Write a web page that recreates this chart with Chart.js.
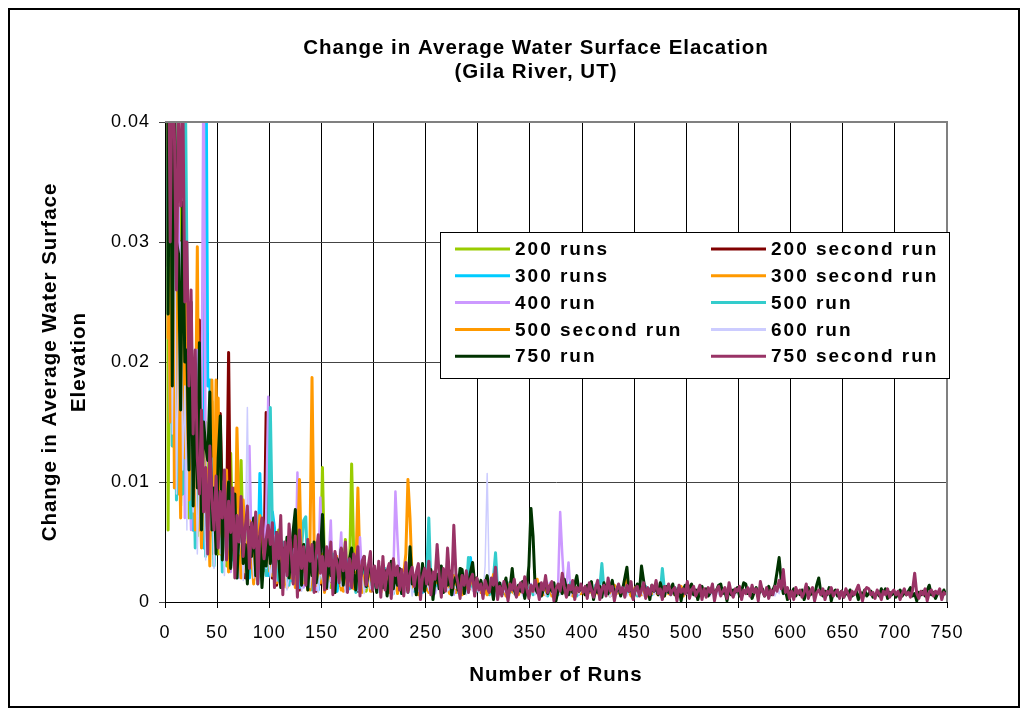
<!DOCTYPE html>
<html>
<head>
<meta charset="utf-8">
<title>Change in Average Water Surface Elacation</title>
<script src="https://cdn.jsdelivr.net/npm/chart.js@4.4.1/dist/chart.umd.min.js"></script>
<style>
    html, body { margin: 0; padding: 0; background: #fff; }
    canvas { display: block; }
</style>
</head>
<body>
<canvas id="myLineChart" width="1029" height="715"></canvas>
<script>
// values, in units of 0.0001, one value for every second run (run 1, 3, 5, ...)
const RUN_STEP = 2;
const VALUE_UNIT = 0.0001;

const seriesNames = ['200 runs', '200 second run', '300 runs', '300 second run', '400 run',
    '500 run', '500 second run', '600 run', '750 run', '750 second run'];

const runs200 = [
    2000, 60, 380, 180, 290, 120, 210, 330, 90, 160, 240, 70, 140, 110, 190, 55, 120, 80, 100, 150,
    45, 88, 167, 60, 75, 40, 95, 55, 68, 30, 82, 124, 48, 60, 35, 72, 118, 40, 52, 28,
    65, 38, 50, 22, 60, 32, 45, 26, 55, 35,
    42, 25, 36, 18, 60, 30, 22, 40, 15, 28, 35, 20, 45, 12, 26, 32, 18, 24, 38, 14,
    22, 30, 10, 27, 20, 112, 25, 16, 30, 12, 22, 35, 18, 14, 26, 20, 52, 10, 24, 115,
    40, 16, 22, 12, 28, 18, 9, 24, 15, 20];

const runs200second = [
    1600, 280, 520, 160, 390, 220, 110, 300, 170, 250, 90, 140, 243, 60, 120, 80, 235, 70, 110, 45,
    95, 60, 130, 40, 75, 50, 157, 85, 35, 65, 208, 40, 55, 30, 70, 25, 48, 60, 20, 42,
    35, 55, 18, 40, 28, 50, 22, 35, 158, 45,
    30, 20, 38, 14, 26, 34, 12, 28, 22, 18, 40, 16, 67, 24, 10, 30, 20, 26, 12, 35,
    18, 22, 9, 28, 15, 32, 20, 11, 25, 17, 21, 8, 27, 14, 19, 24, 10, 22, 16, 12,
    26, 18, 9, 20, 23, 11, 17, 14, 21, 8];

const runs300 = [
    1200, 340, 150, 450, 230, 120, 310, 80, 200, 140, 260, 95, 170, 60, 130, 110, 75, 150, 45, 520,
    180, 185, 70, 120, 50, 90, 65, 40, 85, 55, 100, 30, 72, 48, 60, 25, 80, 45, 35, 62,
    20, 50, 38, 58, 28, 107, 42, 30, 55, 22,
    48, 75, 62, 30, 20, 42, 15, 35, 26, 50, 18, 32, 22, 40, 12, 28, 36, 16, 25, 45,
    14, 30, 20, 10, 34, 24, 38, 12, 22, 28, 16, 32, 9, 20, 26, 14, 24, 35, 11, 18,
    28, 15, 22, 8, 19, 26, 13, 21, 16, 24,
    15, 20, 9, 24, 13, 18, 11, 26, 8, 16, 21, 12, 17, 7, 22, 14, 10, 19, 25, 9,
    15, 12, 20, 8, 16, 23, 11, 14, 6, 18, 13, 21, 10, 15, 12, 24, 9, 17, 11, 14,
    8, 19, 13, 10, 16, 12, 37, 15, 9, 12];

const runs300second = [
    1400, 220, 460, 130, 360, 180, 90, 280, 150, 390, 110, 200, 70, 160, 120, 296, 60, 140, 95, 45,
    110, 80, 130, 40, 185, 75, 55, 100, 35, 80, 60, 45, 90, 28, 145, 70, 38, 62, 25, 55,
    80, 30, 48, 65, 20, 42, 58, 32, 50, 26,
    38, 22, 45, 16, 30, 52, 20, 35, 12, 28, 42, 18, 32, 24, 60, 14, 26, 36, 10, 45,
    187, 50, 22, 30, 16, 40, 25, 12, 34, 20, 28, 15, 38, 22, 10, 30, 18, 26, 14, 33,
    20, 24, 95, 28, 12, 22, 18, 30, 9, 24,
    16, 24, 10, 20, 28, 12, 18, 8, 22, 15, 26, 11, 19, 14, 24, 40, 102, 70, 20, 12,
    18, 25, 9, 16, 21, 13, 8, 19, 24, 11, 15, 20, 7, 17, 13, 22, 10, 16, 19, 8,
    14, 21, 12, 9, 18, 15, 11, 20, 7, 13];

const runs400 = [
    1300, 310, 150, 420, 200, 95, 330, 140, 250, 70, 190, 120, 60, 160, 90, 210, 75, 130, 470, 110,
    50, 95, 65, 40, 85, 55, 120, 30, 70, 45, 88, 25, 60, 38, 72, 20, 55, 42, 65, 30,
    130, 48, 22, 60, 35, 50, 18, 42, 70, 171,
    40, 25, 55, 18, 35, 48, 22, 30, 14, 38, 26, 44, 16, 108, 20, 34, 12, 28, 40, 15,
    26, 33, 10, 24, 87, 30, 18, 22, 36, 68, 14, 26, 20, 32, 58, 12, 24, 18, 30, 16,
    22, 28, 10, 54, 20, 14, 26, 18, 32, 12,
    20, 14, 26, 10, 18, 24, 12, 30, 16, 22, 92, 52, 18, 12, 24, 9, 20, 15, 28, 11,
    17, 22, 8, 19, 14, 25, 10, 16, 21, 7, 18, 13, 24, 9, 15, 20, 11, 17, 6, 22,
    14, 10, 19, 12, 16, 8, 20, 13, 11, 17,
    12, 9, 16, 7, 14, 11, 18, 8, 13, 10, 15, 6, 12, 17, 9, 11, 14, 7, 13, 10,
    16, 8, 12, 6, 11, 15, 9, 13, 7, 12, 10, 14, 8, 11, 16, 9, 12, 7, 13, 75,
    40, 10, 14, 33, 8, 12, 9, 11, 6, 10];

const runs500 = [
    1100, 240, 520, 130, 300, 85, 210, 160, 90, 480, 287, 110, 70, 150, 45, 120, 95, 60, 130, 38,
    85, 55, 105, 30, 70, 48, 90, 25, 100, 60, 40, 72, 35, 55, 20, 66, 45, 30, 58, 18,
    50, 38, 26, 47, 15, 40, 32, 52, 22, 36,
    162, 60, 28, 45, 18, 38, 50, 22, 35, 14, 40, 26, 32, 12, 30, 45, 68, 71, 20, 34,
    10, 28, 42, 16, 25, 36, 12, 30, 22, 18, 40, 9, 26, 20, 32, 14, 24, 11, 29, 18,
    22, 8, 27, 15, 20, 33, 12, 19, 24, 10,
    18, 25, 9, 20, 14, 28, 11, 16, 22, 7, 19, 13, 26, 10, 15, 21, 8, 17, 24, 12,
    14, 30, 9, 18, 11, 22, 70, 15, 10, 19, 13, 25, 8, 16, 20, 11, 14, 6, 18, 23,
    10, 15, 12, 20, 8, 37, 16, 11, 14, 9,
    12, 8, 15, 10, 18, 6, 13, 20, 41, 11, 9, 14, 7, 12, 16, 8, 10, 13, 5, 11,
    15, 9, 12, 7, 10, 14, 6, 11, 17, 8, 12, 9, 15, 5, 10, 13, 8, 11, 6, 14,
    9, 12, 7, 10, 16, 8, 11, 5, 13, 9,
    10, 7, 13, 8, 11, 6, 14, 9, 12, 32, 10, 7, 11, 5, 9, 13, 8, 10, 6, 12,
    9, 7, 11, 14, 8, 10, 5, 12, 9, 7, 13, 8, 11, 6, 10, 9, 12, 7, 28, 10,
    8, 11, 6, 9, 12, 7, 10, 5, 9, 8];

const runs500second = [
    900, 380, 150, 420, 95, 260, 180, 70, 310, 120, 252, 85, 200, 140, 60, 170, 110, 45, 130, 75,
    100, 30, 185, 65, 90, 170, 40, 80, 55, 110, 25, 70, 48, 95, 35, 62, 20, 85, 50, 30,
    68, 42, 15, 58, 36, 72, 24, 50, 33, 44,
    28, 45, 18, 36, 52, 22, 40, 15, 30, 48, 20, 35, 12, 38, 102, 25, 16, 32, 44, 10,
    27, 36, 14, 30, 22, 40, 8, 26, 34, 18, 24, 12, 30, 20, 38, 9, 22, 28, 15, 33,
    11, 25, 19, 30, 8, 21, 26, 14, 24, 17,
    20, 12, 26, 8, 18, 24, 14, 30, 10, 19, 22, 7, 16, 25, 12, 20, 9, 28, 15, 11,
    23, 6, 18, 14, 21, 10, 26, 13, 8, 19, 16, 24, 9, 15, 20, 12, 7, 17, 22, 11,
    14, 18, 6, 20, 13, 10, 16, 23, 9, 14,
    12, 8, 15, 10, 6, 13, 9, 23, 11, 7, 14, 8, 12, 5, 10, 16, 9, 7, 12, 6,
    11, 14, 8, 10, 5, 13, 9, 11, 19, 7, 12, 6, 10, 8, 14, 5, 9, 12, 7, 11,
    8, 13, 6, 10, 9, 5, 12, 8, 11, 7,
    9, 6, 12, 8, 10, 5, 11, 7, 13, 6, 9, 8, 12, 5, 10, 14, 7, 9, 6, 11,
    8, 21, 10, 5, 9, 12, 7, 10, 6, 8, 11, 5, 9, 7, 12, 8, 6, 10, 9, 5,
    11, 7, 8, 12, 6, 9, 7, 13, 5, 8];

const runs600 = [
    1000, 260, 480, 140, 350, 90, 220, 300, 110, 180, 60, 240, 130, 75, 160, 40, 110, 85, 130, 35,
    90, 60, 120, 28, 70, 95, 40, 65, 22, 80, 50, 35, 70, 25, 55, 40, 60, 18, 45, 162,
    30, 50, 20, 42, 35, 55, 15, 38, 28, 45,
    20, 35, 12, 28, 40, 16, 25, 32, 10, 22, 30, 14, 26, 18, 34, 9, 24, 20, 28, 12,
    30, 16, 22, 8, 26, 19, 14, 28, 11, 21, 24, 9, 18, 27, 13, 20, 8, 23, 16, 12,
    25, 10, 19, 14, 22, 7, 17, 21, 11, 15,
    14, 20, 8, 17, 11, 24, 9, 15, 19, 6, 13, 22, 10, 16, 7, 18, 12, 21, 5, 14,
    17, 9, 12, 20, 8, 15, 11, 6, 18, 13, 10, 16, 7, 14, 19, 9, 12, 5, 15, 11,
    17, 8, 13, 10, 6, 14, 12, 9, 16, 11,
    8, 12, 6, 30, 107, 15, 9, 11, 5, 13, 8, 16, 10, 7, 12, 9, 14, 6, 11, 8,
    13, 5, 10, 15, 7, 9, 12, 6, 11, 8, 14, 10, 5, 9, 13, 7, 11, 8, 12, 6,
    10, 14, 7, 9, 5, 12, 8, 11, 6, 10,
    9, 6, 12, 8, 11, 5, 14, 7, 10, 13, 6, 9, 11, 4, 8, 12, 7, 10, 6, 9,
    13, 5, 8, 11, 7, 10, 6, 12, 9, 5, 8, 11, 7, 13, 6, 9, 10, 4, 8, 12,
    7, 9, 6, 11, 8, 5, 10, 7, 9, 6,
    8, 6, 14, 9, 5, 11, 7, 10, 6, 8, 12, 5, 9, 7, 11, 6, 13, 8, 10, 5,
    13, 7, 9, 6, 11, 8, 5, 10, 7, 9, 12, 6, 8, 10, 5, 12, 7, 9, 6, 11,
    8, 10, 5, 9, 7, 12, 6, 8, 12, 7];

const runs750 = [
    1800, 240, 520, 180, 440, 300, 290, 160, 333, 200, 210, 110, 250, 80, 180, 95, 216, 60, 150, 130,
    118, 175, 60, 95, 40, 120, 155, 35, 82, 70, 100, 28, 66, 90, 20, 58, 75, 32, 48, 15,
    62, 38, 70, 22, 45, 55, 12, 40, 30, 58,
    32, 50, 18, 58, 36, 12, 45, 26, 54, 20, 42, 60, 77, 24, 40, 14, 48, 30, 10, 42,
    22, 50, 16, 34, 40, 73, 28, 12, 38, 22, 32, 8, 36, 26, 44, 14, 30, 18, 36, 45,
    24, 10, 32, 18, 28, 38, 13, 24, 32, 16,
    22, 8, 30, 16, 12, 26, 5, 19, 34, 11, 23, 14, 28, 7, 18, 24, 10, 46, 15, 21,
    6, 26, 13, 32, 9, 20, 15, 27, 2, 18, 23, 11, 30, 8, 19, 14, 26, 6, 17, 21,
    10, 28, 27, 7, 22, 15, 25, 33, 16, 20,
    12, 18, 7, 15, 22, 9, 14, 2, 19, 11, 16, 8, 13, 20, 6, 12, 28, 10, 5, 14,
    9, 17, 3, 12, 30, 78, 55, 12, 8, 15, 5, 11, 18, 7, 13, 9, 16, 1, 10, 14,
    7, 19, 11, 6, 13, 8, 15, 22, 9, 12,
    10, 6, 14, 9, 17, 2, 11, 8, 13, 4, 16, 10, 7, 12, 18, 6, 9, 14, 5, 11,
    20, 29, 9, 13, 3, 10, 15, 8, 30, 18, 7, 11, 2, 14, 9, 12, 6, 16, 10, 5,
    13, 8, 11, 15, 6, 9, 12, 1, 10, 14,
    8, 12, 15, 6, 10, 2, 9, 13, 7, 11, 5, 8, 12, 6, 10, 14, 15, 7, 9, 1,
    11, 6, 10, 8, 12, 5, 9, 16, 15, 7, 10, 3, 8, 12, 6, 9, 11, 5, 8, 13,
    6, 10, 14, 25, 37, 18, 7, 10, 2, 9,
    7, 11, 5, 9, 6, 10, 2, 8, 12, 6, 9, 5, 14, 20, 8, 5, 9, 6, 12, 1,
    8, 10, 5, 7, 9, 4, 8, 6, 10, 5, 7, 9, 2, 8, 6, 10, 5, 7, 9, 4,
    6, 8, 5, 11, 7, 11, 3, 8, 6, 9, 4, 7, 10, 5, 8, 6, 9, 12, 5, 7,
    1, 8, 6, 9, 5, 10, 14, 6, 8, 3, 7, 9, 5, 10, 6];

const runs750second = [
    1500, 520, 300, 450, 390, 260, 410, 330, 430, 250, 300, 180, 260, 140, 210, 120, 90, 160, 75, 112,
    40, 130, 85, 60, 105, 45, 92, 70, 110, 35, 84, 58, 95, 20, 72, 50, 88, 38, 62, 80,
    28, 66, 45, 75, 15, 58, 70, 36, 52, 64,
    48, 66, 12, 58, 36, 72, 6, 50, 22, 65, 42, 15, 55, 4, 60, 28, 46, 14, 52, 34,
    48, 8, 40, 56, 24, 38, 10, 46, 30, 50, 6, 42, 32, 16, 45, 26, 50, 8, 36, 12,
    40, 28, 46, 5, 34, 38, 14, 30, 42, 10,
    30, 12, 34, 4, 38, 10, 26, 32, 3, 36, 22, 30, 10, 27, 5, 33, 8, 24, 29, 13,
    25, 32, 2, 21, 28, 15, 34, 6, 25, 19, 48, 22, 4, 28, 9, 45, 20, 12, 64, 24,
    16, 3, 22, 14, 26, 8, 19, 23, 5, 20,
    10, 15, 3, 18, 12, 8, 20, 14, 29, 2, 13, 5, 17, 11, 1, 15, 10, 19, 4, 12,
    16, 8, 21, 11, 3, 14, 9, 18, 12, 2, 16, 10, 22, 8, 13, 17, 1, 11, 15, 9,
    24, 12, 4, 14, 10, 18, 2, 12, 9, 15,
    8, 13, 3, 16, 10, 4, 12, 18, 2, 11, 14, 5, 20, 9, 13, 1, 10, 15, 8, 12,
    4, 14, 9, 17, 2, 11, 13, 5, 10, 16, 3, 12, 6, 14, 9, 18, 7, 11, 2, 13,
    9, 15, 6, 10, 12, 1, 14, 8, 11, 7,
    17, 3, 10, 13, 5, 9, 14, 2, 11, 4, 12, 8, 15, 1, 10, 13, 5, 9, 12, 3,
    16, 8, 4, 11, 9, 13, 2, 10, 7, 12, 5, 14, 8, 11, 1, 17, 9, 5, 12, 3,
    10, 6, 13, 9, 18, 11, 27, 8, 12, 3,
    9, 2, 12, 7, 10, 4, 8, 15, 3, 9, 12, 1, 8, 10, 6, 11, 2, 9, 7, 12,
    5, 8, 10, 3, 9, 4, 11, 7, 2, 9, 6, 10, 14, 7, 1, 9, 12, 11, 6, 8,
    3, 10, 7, 2, 9, 6, 11, 4, 8, 10, 6, 9, 2, 7, 11, 6, 8, 4, 10, 24,
    7, 3, 9, 6, 11, 1, 8, 10, 5, 9, 7, 11, 2, 8, 6];

const seriesValues = [runs200, runs200second, runs300, runs300second, runs400,
    runs500, runs500second, runs600, runs750, runs750second];

const yTickLabels = ['0', '0.01', '0.02', '0.03', '0.04'];
const xTickStep = 50;
const chartTitle = ['Change in Average Water Surface Elacation', '(Gila River, UT)'];
const xAxisTitle = 'Number of Runs';
const yAxisTitle = ['Change in Average Water Surface', 'Elevation'];

// styles
const seriesColors = ['#99CC00', '#800000', '#00CCFF', '#FF9900', '#CC99FF',
    '#33CCCC', '#FF9900', '#CCCCFF', '#003300', '#993366'];
const seriesWidths = [3, 3, 3, 3, 2.5, 3, 3, 1.5, 3, 3];
const FONT = '"Liberation Sans", Arial, sans-serif';

function toPoints(values) {
    return values.map((v, i) => ({ x: 1 + i * RUN_STEP, y: v * VALUE_UNIT }));
}

const datasets = seriesNames.map((name, i) => ({
    label: name,
    data: toPoints(seriesValues[i]),
    borderColor: seriesColors[i],
    borderWidth: seriesWidths[i],
    borderJoinStyle: 'round',
    pointRadius: 0,
    tension: 0,
    fill: false,
    order: seriesNames.length - 1 - i   // later series drawn on top, like the original
}));

const excelLook = {
    id: 'excelLook',
    beforeDraw(chart) {
        const ctx = chart.ctx;
        ctx.save();
        ctx.fillStyle = '#fff';
        ctx.fillRect(0, 0, chart.width, chart.height);
        ctx.restore();
        ctx.letterSpacing = '1px';
    },
    afterDraw(chart) {
        const ctx = chart.ctx;
        const area = chart.chartArea;
        ctx.save();
        // plot area frame, top and right
        ctx.strokeStyle = '#808080';
        ctx.lineWidth = 2;
        ctx.beginPath();
        ctx.moveTo(area.left, area.top);
        ctx.lineTo(area.right, area.top);
        ctx.lineTo(area.right, area.bottom);
        ctx.stroke();

        // title
        ctx.fillStyle = '#000';
        ctx.font = 'bold 20.5px ' + FONT;
        ctx.textAlign = 'center';
        ctx.textBaseline = 'alphabetic';
        ctx.fillText(chartTitle[0], 536, 54);
        ctx.fillText(chartTitle[1], 536, 78);

        // legend box
        ctx.fillStyle = '#fff';
        ctx.fillRect(440, 232, 509, 146);
        ctx.strokeStyle = '#000';
        ctx.lineWidth = 1;
        ctx.strokeRect(440.5, 232.5, 509, 146);
        ctx.font = 'bold 19px ' + FONT;
        ctx.letterSpacing = '2px';
        ctx.textAlign = 'left';
        ctx.textBaseline = 'middle';
        chart.data.datasets.forEach((ds, i) => {
            const col = i % 2;
            const row = Math.floor(i / 2);
            const x = col ? 711 : 455;
            const y = 249 + row * 26.8;
            ctx.strokeStyle = ds.borderColor;
            ctx.lineWidth = 3;
            ctx.beginPath();
            ctx.moveTo(x, y);
            ctx.lineTo(x + 55, y);
            ctx.stroke();
            ctx.fillStyle = '#000';
            ctx.fillText(ds.label, x + 60, y + 1);
        });

        // outer chart border
        ctx.strokeStyle = '#000';
        ctx.lineWidth = 2;
        ctx.strokeRect(9, 9, 1010, 698);
        ctx.restore();
    }
};

const config = {
    type: 'line',
    data: { datasets: datasets },
    options: {
        responsive: false,
        animation: false,
        events: [],
        layout: { padding: { left: 30, right: 82, top: 122, bottom: 25 } },
        plugins: {
            legend: { display: false },
            title: { display: false },
            tooltip: { enabled: false }
        },
        scales: {
            x: {
                type: 'linear',
                min: 0,
                max: 750,
                ticks: {
                    stepSize: xTickStep,
                    color: '#000',
                    font: { family: FONT, size: 18 },
                    padding: 14,
                    maxRotation: 0,
                    autoSkip: false
                },
                grid: { color: '#000', lineWidth: 1, tickLength: 6 },
                border: { color: '#000', width: 1 },
                title: {
                    display: true,
                    text: xAxisTitle,
                    color: '#000',
                    font: { family: FONT, size: 20.5, weight: 'bold', lineHeight: 1.4 },
                    padding: { top: 0, bottom: 0 }
                },
                afterFit(scale) { scale.height = 88; }
            },
            y: {
                min: 0,
                max: 0.04,
                ticks: {
                    stepSize: 0.01,
                    color: '#000',
                    font: { family: FONT, size: 18 },
                    padding: 9,
                    callback: (value, index) => yTickLabels[index]
                },
                grid: { color: '#444', lineWidth: 1, tickLength: 6 },
                border: { color: '#000', width: 1 },
                title: {
                    display: true,
                    text: yAxisTitle,
                    color: '#000',
                    font: { family: FONT, size: 20.5, weight: 'bold', lineHeight: 1.4 },
                    padding: { top: 6, bottom: 0 }
                },
                afterFit(scale) { scale.width = 135; }
            }
        }
    },
    plugins: [excelLook]
};

new Chart(document.querySelector('#myLineChart'), config);
</script>
</body>
</html>
